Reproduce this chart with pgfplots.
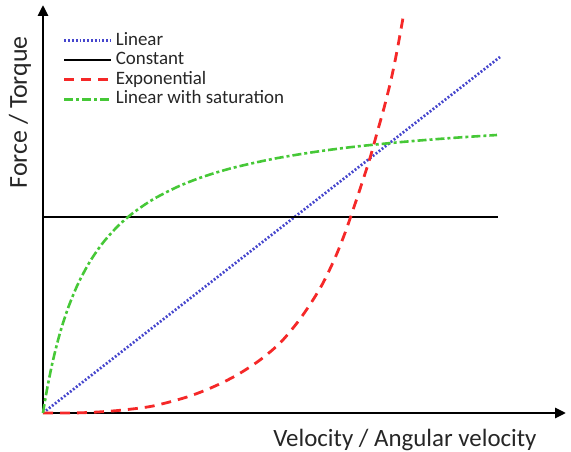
\documentclass[border=0pt]{standalone}
\usepackage{pgfplots}
\pgfplotsset{compat=1.18}
\usepackage{fontspec}
\setmainfont{Carlito}
\usetikzlibrary{arrows.meta}
\definecolor{cblue}{RGB}{70,70,205}
\definecolor{cred}{RGB}{245,40,40}
\definecolor{cgreen}{RGB}{70,200,55}
\begin{document}
\begin{tikzpicture}
\begin{axis}[
  scale only axis,
  width=523bp, height=408bp,
  xmin=0, xmax=523, ymin=0, ymax=408,
  axis lines=left,
  axis line style={line width=2.7bp, -{Triangle[length=11bp,width=10bp]}},
  xtick=\empty, ytick=\empty,
  clip=false,
  xlabel={Velocity / Angular velocity},
  ylabel={Force / Torque},
  xlabel style={at={(rel axis cs:0.692,-0.0809)}, anchor=base, inner sep=0pt, font=\fontsize{25}{28}\selectfont, color=black!85},
  ylabel style={at={(rel axis cs:-0.0306,0.737)}, anchor=base, inner sep=0pt, font=\fontsize{26}{29}\selectfont, color=black!85},
  legend style={at={(axis cs:20,382)}, anchor=north west, draw=none, fill=none, inner sep=0pt, outer sep=0pt,
    font=\fontsize{19}{21}\selectfont, text=black!85,
    nodes={text height=13bp, text depth=4bp, inner xsep=3bp, inner ysep=1.25bp}},
  legend cell align=left,
  legend image code/.code={\draw[#1] (0bp,0bp) -- (47bp,0bp);},
]
\addplot[cblue, line width=2.7bp, dash pattern=on 1.9bp off 1.9bp] coordinates {(0,0) (457,356)};
\addlegendentry{Linear}
\addplot[black, line width=2.2bp] coordinates {(0,196) (455,196)};
\addlegendentry{Constant}
\addplot[cred, line width=2.8bp, dash pattern=on 10bp off 7bp, smooth] coordinates {
 (0,0) (30,0) (55,1) (80,3) (110,7) (144,16) (170,26) (194,38) (217,53) (237,70) (254,90)
 (268,110) (280,130) (292,155) (302,180) (311,206) (319,230) (327,255) (334,280) (341,305)
 (348,333) (354,362) (360,395)};
\addlegendentry{Exponential}
\addplot[cgreen, line width=2.6bp, dash pattern=on 9bp off 3bp on 3bp off 3bp, smooth] coordinates {
 (0,0) (2,12.2) (5,28.8) (10,52.7) (17,80) (25,104.8) (35,129.1) (47,151.5) (60,170.3) (75,187.0)
 (90,200.0) (110,213.6) (135,226.4) (160,236.2) (190,245.2) (230,254.1) (270,260.8) (310,266.1)
 (360,271.1) (410,275.1) (454,278.0)};
\addlegendentry{Linear with saturation}
\end{axis}
\pgfresetboundingbox
\path[use as bounding box] (-43bp,-39bp) rectangle (528bp,413bp);
\end{tikzpicture}
\end{document}
